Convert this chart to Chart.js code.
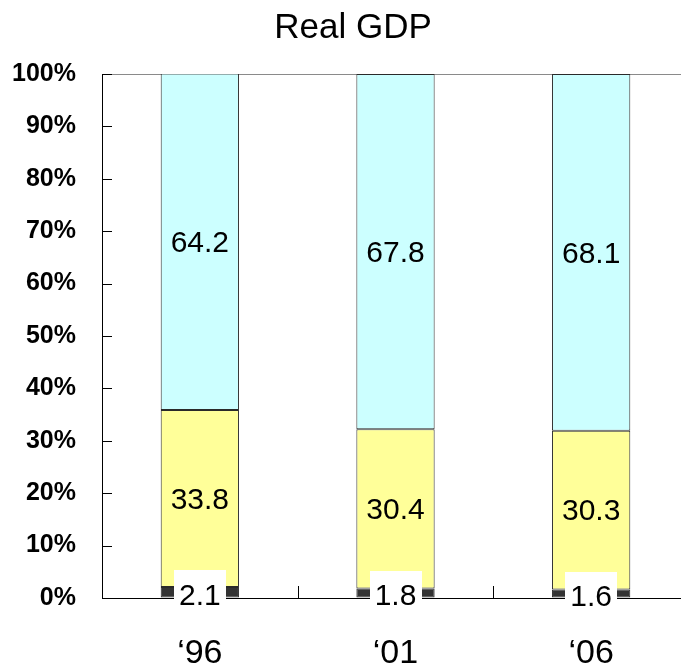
<!DOCTYPE html>
<html>
<head>
<meta charset="utf-8">
<title>Real GDP</title>
<script src="https://cdn.jsdelivr.net/npm/chart.js@4.4.1/dist/chart.umd.min.js"></script>
<style>
  html, body { margin: 0; padding: 0; background: #fff; overflow: hidden; }
  #wrap { width: 700px; height: 667px; }
</style>
</head>
<body>
<div id="wrap"><canvas id="gdp" width="700" height="667"></canvas></div>
<script>
// share of real GDP by sector (%)
const chartTitle = "Real GDP";
const years = ["\u201896", "\u201801", "\u201806"];
const primaryShare = [2.1, 1.8, 1.6];
const secondaryShare = [33.8, 30.4, 30.3];
const tertiaryShare = [64.2, 67.8, 68.1];
const yTicks = [0, 10, 20, 30, 40, 50, 60, 70, 80, 90, 100];

const FONT = "'Liberation Sans', Arial, Helvetica, sans-serif";

// title sits a little right of the canvas centre, over the whole figure
const titleText = {
  id: "titleText",
  afterDraw(chart) {
    const { ctx } = chart;
    ctx.save();
    ctx.font = "35px " + FONT;
    ctx.fillStyle = "#000";
    ctx.textAlign = "center";
    ctx.textBaseline = "middle";
    ctx.fillText(chartTitle, 353, 28);
    ctx.restore();
  },
};

// inward tick marks on the value axis, separators between categories
const axisMarks = {
  id: "axisMarks",
  beforeDatasetsDraw(chart) {
    const { ctx, chartArea, scales } = chart;
    ctx.save();
    ctx.strokeStyle = "#000";
    ctx.lineWidth = 1;
    ctx.beginPath();
    yTicks.forEach((v) => {
      const y = Math.round(scales.y.getPixelForValue(v)) + 0.5;
      ctx.moveTo(chartArea.left, y);
      ctx.lineTo(chartArea.left + 10, y);
    });
    for (let i = 1; i < years.length; i++) {
      const x = Math.round((scales.x.getPixelForValue(i - 1) + scales.x.getPixelForValue(i)) / 2) + 0.5;
      ctx.moveTo(x, chartArea.bottom);
      ctx.lineTo(x, chartArea.bottom - 12);
    }
    ctx.stroke();
    ctx.restore();
  },
};

// value labels in each segment, the thin bottom one sits on a white box
const segmentLabels = {
  id: "segmentLabels",
  afterDatasetsDraw(chart) {
    const { ctx } = chart;
    ctx.save();
    ctx.font = "30px " + FONT;
    ctx.textAlign = "center";
    ctx.textBaseline = "middle";
    chart.data.datasets.forEach((ds, di) => {
      const meta = chart.getDatasetMeta(di);
      meta.data.forEach((bar, i) => {
        const text = ds.data[i].toFixed(1);
        let y = (bar.y + bar.base) / 2;
        if (di === 0) {
          y += 2;
          const w = ctx.measureText(text).width + 10;
          ctx.fillStyle = "#fff";
          ctx.fillRect(Math.round(bar.x - w / 2), Math.round(y - 24), Math.round(w), 48);
        }
        ctx.fillStyle = "#000";
        ctx.fillText(text, bar.x, y + 2);
      });
    });
    ctx.restore();
  },
};

const barStyle = {
  borderColor: "#2a2a2a",
  borderWidth: 1,
  borderSkipped: false,
  barPercentage: 0.4,
  categoryPercentage: 1.0,
};

new Chart(document.getElementById("gdp"), {
  type: "bar",
  data: {
    labels: years,
    datasets: [
      { label: "Primary", data: primaryShare, backgroundColor: "#333333", ...barStyle },
      { label: "Secondary", data: secondaryShare, backgroundColor: "#FFFF99", ...barStyle },
      { label: "Tertiary", data: tertiaryShare, backgroundColor: "#CCFFFF", ...barStyle },
    ],
  },
  options: {
    responsive: false,
    animation: false,
    layout: { padding: { left: 0, right: 11, top: 74, bottom: 0 } },
    plugins: {
      legend: { display: false },
      tooltip: { enabled: false },
      title: { display: false },
    },
    scales: {
      x: {
        stacked: true,
        grid: { display: false, drawTicks: false },
        border: { display: true, color: "#000", width: 1 },
        ticks: {
          color: "#000",
          padding: 35,
          font: { family: FONT, size: 34, weight: "normal" },
        },
        afterFit(scale) {
          scale.height = 69;
        },
      },
      y: {
        stacked: true,
        min: 0,
        max: 100,
        afterBuildTicks(scale) {
          scale.ticks = yTicks.map((v) => ({ value: v }));
        },
        grid: {
          drawTicks: false,
          color: (c) => (c.tick && c.tick.value === 100 ? "#8a8a8a" : "rgba(0,0,0,0)"),
        },
        border: { display: true, color: "#000", width: 1 },
        ticks: {
          color: "#000",
          padding: 26,
          font: { family: FONT, size: 25, weight: "bold" },
          callback: (v) => v + "%",
        },
        afterFit(scale) {
          scale.width = 102;
        },
      },
    },
  },
  plugins: [axisMarks, segmentLabels, titleText],
});
</script>
</body>
</html>
